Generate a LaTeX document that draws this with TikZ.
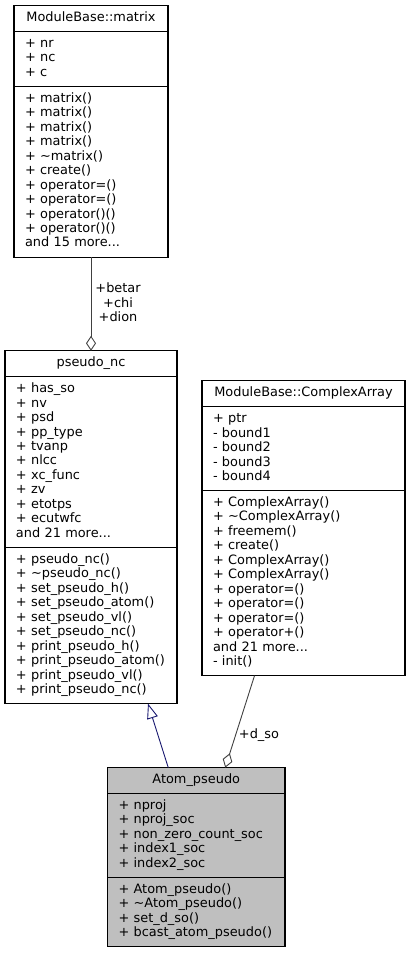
\documentclass[tikz,border=0pt]{standalone}
\usepackage{fontspec}
\setmainfont{DejaVu Sans}
\usetikzlibrary{shapes,arrows.meta,positioning}
\definecolor{EdgeGray}{HTML}{404040}
\definecolor{BaseBlue}{HTML}{191970}
\definecolor{RootGray}{HTML}{BFBFBF}
\tikzset{
  Class/.style={draw, line width=1.1pt, rectangle split, rectangle split parts=3,
    font=\fontsize{12.9}{14.47}\selectfont, align=left,
    inner xsep=11pt, inner ysep=5.2pt, outer sep=0pt},
  Root/.style={Class, fill=RootGray},
  Uses/.style={draw=EdgeGray, line width=0.9pt, -{Diamond[open, length=15pt, width=10pt]}},
  Inherits/.style={draw=BaseBlue, line width=0.9pt, -{Triangle[open, length=15pt, width=11pt]}},
  Role/.style={font=\fontsize{12.9}{14.47}\selectfont, align=center, inner sep=0pt},
}

\begin{document}
\begin{tikzpicture}
  \useasboundingbox (0,0) rectangle (410pt,-955pt);
  \node[Class, text width=132pt, anchor=north] (matrix) at (91pt,-5.5pt)
    {\hfill\strut ModuleBase::matrix\hfill\null
     \nodepart{second}
     \strut + nr\\ \strut + nc\\ \strut + c
     \nodepart{third}
     \strut + matrix()\\ \strut + matrix()\\ \strut + matrix()\\ \strut + matrix()\\
     \strut + \textasciitilde matrix()\\ \strut + create()\\ \strut + operator=()\\
     \strut + operator=()\\ \strut + operator()()\\ \strut + operator()()\\
     \strut and 15 more...};
  \node[Class, text width=150pt, below=93.7pt of matrix] (pseudonc)
    {\hfill\strut pseudo\_nc\hfill\null
     \nodepart{second}
     \strut + has\_so\\ \strut + nv\\ \strut + psd\\ \strut + pp\_type\\ \strut + tvanp\\
     \strut + nlcc\\ \strut + xc\_func\\ \strut + zv\\ \strut + etotps\\ \strut + ecutwfc\\
     \strut and 21 more...
     \nodepart{third}
     \strut + pseudo\_nc()\\ \strut + \textasciitilde pseudo\_nc()\\ \strut + set\_pseudo\_h()\\
     \strut + set\_pseudo\_atom()\\ \strut + set\_pseudo\_vl()\\ \strut + set\_pseudo\_nc()\\
     \strut + print\_pseudo\_h()\\ \strut + print\_pseudo\_atom()\\
     \strut + print\_pseudo\_vl()\\ \strut + print\_pseudo\_nc()};
  \node[Class, text width=181pt, below right=30pt and 25pt of pseudonc.north east] (complex)
    {\hfill\strut ModuleBase::ComplexArray\hfill\null
     \nodepart{second}
     \strut + ptr\\ \strut - bound1\\ \strut - bound2\\ \strut - bound3\\ \strut - bound4
     \nodepart{third}
     \strut + ComplexArray()\\ \strut + \textasciitilde ComplexArray()\\ \strut + freemem()\\
     \strut + create()\\ \strut + ComplexArray()\\ \strut + ComplexArray()\\
     \strut + operator=()\\ \strut + operator=()\\ \strut + operator=()\\
     \strut + operator+()\\ \strut and 21 more...\\ \strut - init()};
  \node[Root, text width=155.5pt, below=64pt of pseudonc, xshift=105.25pt] (atom)
    {\hfill\strut Atom\_pseudo\hfill\null
     \nodepart{second}
     \strut + nproj\\ \strut + nproj\_soc\\ \strut + non\_zero\_count\_soc\\
     \strut + index1\_soc\\ \strut + index2\_soc
     \nodepart{third}
     \strut + Atom\_pseudo()\\ \strut + \textasciitilde Atom\_pseudo()\\
     \strut + set\_d\_so()\\ \strut + bcast\_atom\_pseudo()};
  \draw[Uses] (matrix.south) -- (pseudonc.north)
    node[Role, midway, right=4pt, yshift=1.5pt] {+betar\\+chi\\+dion};
  \draw[Uses] ([xshift=-49pt]complex.south) -- ([xshift=29pt]atom.north)
    node[Role, pos=0.65, right=3pt] {+d\_so};
  \draw[Inherits] ([xshift=-28pt]atom.north) -- ([xshift=57pt]pseudonc.south);
\end{tikzpicture}
\end{document}
